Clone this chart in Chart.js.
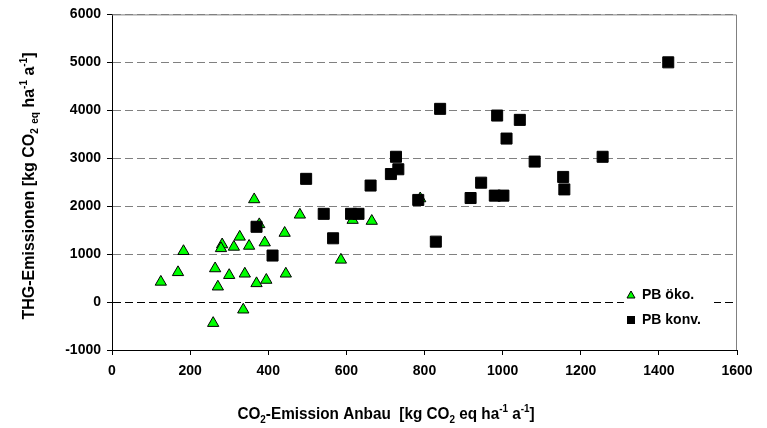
<!DOCTYPE html>
<html>
<head>
<meta charset="utf-8">
<script src="https://cdn.jsdelivr.net/npm/chart.js@4.4.0/dist/chart.umd.min.js"></script>
<style>
html, body { margin: 0; padding: 0; background: #fff; }
#wrap { width: 767px; height: 428px; }
</style>
</head>
<body>
<div id="wrap"><canvas id="chart"></canvas></div>
<script>
// PB öko. (green triangles)
const okoX = [125, 169, 183, 264, 271, 259, 282, 279, 300, 312, 327, 351, 340,
              336, 370, 364, 377, 391, 395, 442, 445, 481, 586, 616, 665, 789];
const okoY = [420, 620, 1060, 700, 320, -440, 1200, 1120, 560, 1150, 1360, 1170, 590,
              -160, 390, 2140, 1620, 1240, 460, 1440, 590, 1820, 880, 1710, 1690, 2160];

// PB konv. (black squares)
const konvX = [497, 542, 612, 631, 566, 370, 411, 662, 727, 733, 714, 784, 829,
               918, 945, 980, 1002, 1010, 1044, 986, 840, 1082, 1155, 1158, 1256, 1424];
const konvY = [2570, 1840, 1840, 1840, 1330, 1570, 970, 2430, 3030, 2770, 2670, 2130, 1260,
               2170, 2490, 2220, 2220, 3410, 3800, 3890, 4030, 2930, 2610, 2350, 3030, 5000];

const xTicks = [0, 200, 400, 600, 800, 1000, 1200, 1400, 1600];
const yTicks = [-1000, 0, 1000, 2000, 3000, 4000, 5000, 6000];
const seriesNames = ["PB öko.", "PB konv."];

const FONT = "'Liberation Sans', Arial, sans-serif";

function points(xs, ys) {
    return xs.map((x, i) => ({ x: x, y: ys[i] }));
}

// rich text pieces: [text, "n" | "sub" | "sup"]
const xTitle = [["CO", "n"], ["2", "sub"], ["-Emission Anbau  [kg CO", "n"], ["2", "sub"],
                [" eq ha", "n"], ["-1", "sup"], [" a", "n"], ["-1", "sup"], ["]", "n"]];
const yTitle = [["THG-Emissionen [kg CO", "n"], ["2", "sub"], [" ", "n"], ["eq", "sub"],
                [" ha", "n"], ["-1", "sup"], [" a", "n"], ["-1", "sup"], ["]", "n"]];

function drawRich(ctx, parts, size) {
    const small = Math.round(size * 0.65);
    let total = 0;
    parts.forEach(p => {
        ctx.font = "bold " + (p[1] === "n" ? size : small) + "px " + FONT;
        total += ctx.measureText(p[0]).width;
    });
    let x = -total / 2;
    ctx.textBaseline = "alphabetic";
    ctx.textAlign = "left";
    parts.forEach(p => {
        ctx.font = "bold " + (p[1] === "n" ? size : small) + "px " + FONT;
        let dy = 0;
        if (p[1] === "sub") dy = size * 0.25;
        if (p[1] === "sup") dy = -size * 0.42;
        ctx.fillText(p[0], x, dy);
        x += ctx.measureText(p[0]).width;
    });
}

const decorations = {
    id: "decorations",
    beforeDatasetsDraw(chart) {
        const a = chart.chartArea, ctx = chart.ctx;
        ctx.save();
        ctx.strokeStyle = "#808080";
        ctx.lineWidth = 1;
        ctx.beginPath();
        ctx.moveTo(a.left, a.top + 0.5);
        ctx.lineTo(a.right - 0.5, a.top + 0.5);
        ctx.lineTo(a.right - 0.5, a.bottom);
        ctx.stroke();
        ctx.restore();
    },
    afterDraw(chart) {
        const a = chart.chartArea, ctx = chart.ctx;
        ctx.save();
        ctx.fillStyle = "#000";

        // axis titles
        ctx.save();
        ctx.translate(386, 419);
        ctx.scale(0.9, 1);
        drawRich(ctx, xTitle, 17);
        ctx.restore();

        ctx.save();
        ctx.translate(34, 186);
        ctx.rotate(-Math.PI / 2);
        drawRich(ctx, yTitle, 16);
        ctx.restore();

        // legend inside the plot, bottom right
        const lx = a.right - 113, ly = a.bottom - 66;
        ctx.fillStyle = "#fff";
        ctx.fillRect(lx, ly, 90, 50);

        const mx = lx + 7;
        ctx.fillStyle = "#00ff00";
        ctx.strokeStyle = "#000";
        ctx.lineWidth = 1;
        ctx.beginPath();
        ctx.moveTo(mx, ly + 7);
        ctx.lineTo(mx + 4, ly + 14);
        ctx.lineTo(mx - 4, ly + 14);
        ctx.closePath();
        ctx.fill();
        ctx.stroke();

        ctx.fillStyle = "#000";
        ctx.fillRect(mx - 4, ly + 32, 8, 8);

        ctx.font = "bold 14px " + FONT;
        ctx.textBaseline = "middle";
        ctx.textAlign = "left";
        ctx.fillText(seriesNames[0], mx + 11, ly + 11);
        ctx.fillText(seriesNames[1], mx + 11, ly + 36);
        ctx.restore();
    }
};

new Chart(document.getElementById("chart"), {
    type: "scatter",
    data: {
        datasets: [
            {
                label: seriesNames[0],
                data: points(okoX, okoY),
                pointStyle: "triangle",
                pointRadius: 6.5,
                backgroundColor: "#00ff00",
                borderColor: "#000",
                borderWidth: 1,
                order: 2
            },
            {
                label: seriesNames[1],
                data: points(konvX, konvY),
                pointStyle: "rect",
                pointRadius: 7.8,
                backgroundColor: "#000",
                borderColor: "#000",
                borderWidth: 1,
                order: 1
            }
        ]
    },
    options: {
        responsive: true,
        maintainAspectRatio: false,
        animation: false,
        events: [],
        layout: { padding: { top: 14, right: 30, left: 0, bottom: 0 } },
        plugins: {
            legend: { display: false },
            tooltip: { enabled: false }
        },
        scales: {
            x: {
                type: "linear",
                min: 0,
                max: 1600,
                afterBuildTicks: s => { s.ticks = xTicks.map(v => ({ value: v })); },
                afterFit: s => { s.height = 78; },
                grid: { drawOnChartArea: false, drawTicks: true, tickLength: 5, color: "#000" },
                border: { color: "#000", width: 1 },
                ticks: {
                    color: "#000", padding: 8,
                    font: { family: FONT, size: 14, weight: "bold" },
                    callback: v => String(v)
                }
            },
            y: {
                type: "linear",
                min: -1000,
                max: 6000,
                afterBuildTicks: s => { s.ticks = yTicks.map(v => ({ value: v })); },
                afterFit: s => { s.width = 112; },
                grid: {
                    color: c => (c.tick && c.tick.value === 0 ? "#000" : "#808080"),
                    tickColor: "#000",
                    tickLength: 5,
                    drawTicks: true
                },
                border: { color: "#000", width: 1, dash: [8, 4] },
                ticks: {
                    color: "#000", padding: 6,
                    font: { family: FONT, size: 14, weight: "bold" },
                    callback: v => String(v)
                }
            }
        }
    },
    plugins: [decorations]
});
</script>
</body>
</html>
